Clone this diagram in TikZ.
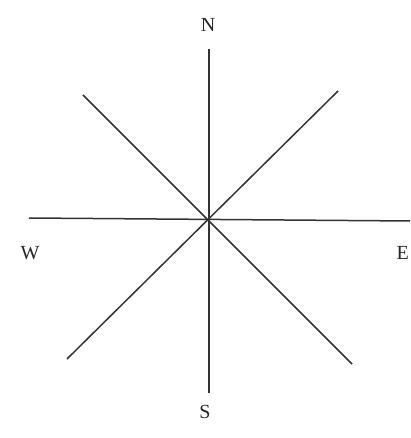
\documentclass[tikz,border=0pt]{standalone}
\usepackage{fontspec}
\setmainfont{Liberation Serif}
\begin{document}
\begin{tikzpicture}[x=1pt,y=-1pt,
  ray/.style={line width=1.5pt,draw=black!80},
  lbl/.style={inner sep=0pt,font=\fontsize{20}{24}\selectfont,text=black!85}]
\useasboundingbox (0,0) rectangle (410,438);
\clip (0,0) rectangle (410,438);
\coordinate (c) at (209,219);
\coordinate (n) at (209,49);
\coordinate (s) at (209,393);
\coordinate (w) at (29,218);
\coordinate (e) at (412,221);
\coordinate (nw) at (83,95);
\coordinate (ne) at (338,91);
\coordinate (sw) at (67,359);
\coordinate (se) at (352,364);
\draw[ray] (n) -- (s);
\draw[ray] (w) -- (e);
\draw[ray] (nw) -- (se);
\draw[ray] (ne) -- (sw);
\node[lbl] (N) at (208,25) {N};
\node[lbl] (S) at (205,412) {S};
\node[lbl] (W) at (30,253) {W};
\node[lbl,anchor=east] (E) at (409,253) {E};
\end{tikzpicture}
\end{document}
